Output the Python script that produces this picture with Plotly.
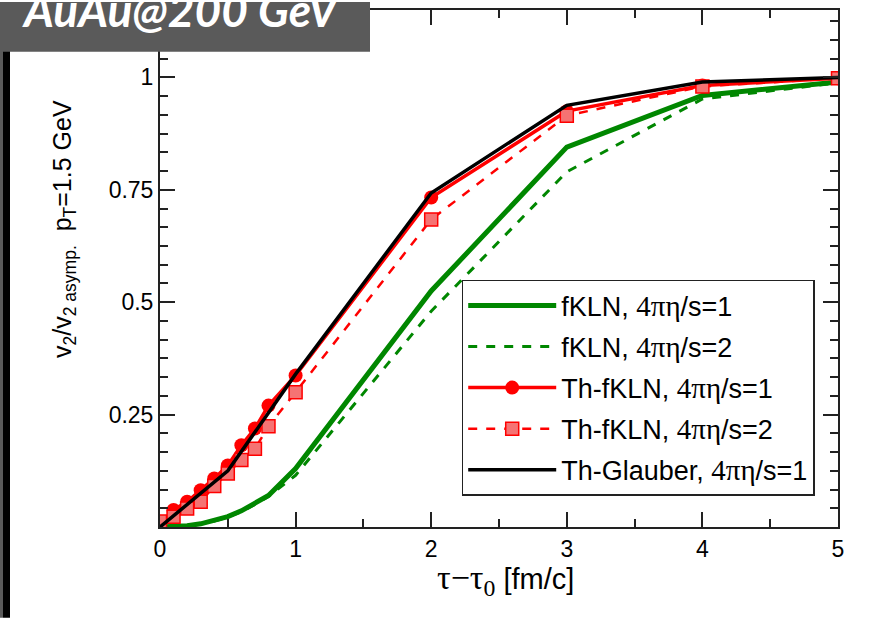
import plotly.graph_objects as go

# ---- data ----
x_fine = [0, 0.1, 0.2, 0.3, 0.4, 0.5, 0.6, 0.7, 0.8, 1, 2, 3, 4, 5]
fkln_1 = [0, 0.001, 0.003, 0.007, 0.014, 0.023, 0.036, 0.052, 0.07, 0.13, 0.525, 0.845, 0.96, 0.99]
fkln_2 = [0, 0.001, 0.003, 0.007, 0.013, 0.022, 0.034, 0.05, 0.068, 0.115, 0.48, 0.79, 0.952, 0.988]
thfkln_1 = [0, 0.038, 0.056, 0.082, 0.108, 0.137, 0.182, 0.219, 0.27, 0.337, 0.733, 0.925, 0.982, 0.998]
thfkln_2 = [0.012, 0.023, 0.041, 0.056, 0.091, 0.119, 0.149, 0.174, 0.224, 0.30, 0.684, 0.915, 0.98, 0.998]
x_glauber = [0, 0.5, 1, 2, 3, 4, 5]
thglauber_1 = [0, 0.125, 0.34, 0.743, 0.938, 0.99, 1.0]

SERIF = "<span style='font-family:Liberation Serif;font-size:29px'>4πη</span>"
names = [
    "fKLN, " + SERIF + "/s=1",
    "fKLN, " + SERIF + "/s=2",
    "Th-fKLN, " + SERIF + "/s=1",
    "Th-fKLN, " + SERIF + "/s=2",
    "Th-Glauber, " + SERIF + "/s=1",
]
x_ticks = [0, 1, 2, 3, 4, 5]
y_ticks = [0.25, 0.5, 0.75, 1]
y_ticklabels = ["0.25", "0.5", "0.75", "1"]

GREEN = "rgb(0,135,0)"
RED = "rgb(255,0,0)"

fig = go.Figure()
fig.add_trace(go.Scatter(x=x_fine, y=fkln_1, mode="lines", name=names[0], legendgroup="a",
                         line=dict(color=GREEN, width=5)))
fig.add_trace(go.Scatter(x=x_fine, y=fkln_2, mode="lines", name=names[1], legendgroup="b",
                         line=dict(color=GREEN, width=3, dash="dash")))
fig.add_trace(go.Scatter(x=x_fine, y=thfkln_1, mode="lines+markers", name=names[2], legendgroup="c",
                         line=dict(color=RED, width=3.5),
                         marker=dict(symbol="circle", size=14, color=RED)))
fig.add_trace(go.Scatter(x=x_fine, y=thfkln_2, mode="lines+markers", name=names[3], legendgroup="d",
                         line=dict(color=RED, width=2.5, dash="dash"),
                         marker=dict(symbol="square", size=13, color="rgb(245,115,115)",
                                     line=dict(color=RED, width=1.5))))
fig.add_trace(go.Scatter(x=x_glauber, y=thglauber_1, mode="lines", name=names[4], legendgroup="e",
                         line=dict(color="black", width=3.5)))

axis_common = dict(
    showline=True, linecolor="#222", linewidth=2, mirror="ticks",
    ticks="inside", ticklen=15, tickwidth=1.5, tickcolor="#222",
    showgrid=False, zeroline=False,
    tickfont=dict(family="Liberation Sans, Arial", size=23, color="black"),
)

fig.update_xaxes(range=[0, 5], tickmode="array", tickvals=x_ticks,
                 minor=dict(dtick=0.5, tick0=0, ticks="inside", ticklen=8, tickwidth=1.5, tickcolor="#222"),
                 **axis_common)
fig.update_yaxes(range=[0, 1.15], tickmode="array", tickvals=y_ticks, ticktext=y_ticklabels,
                 minor=dict(dtick=1/24, tick0=0, ticks="inside", ticklen=8, tickwidth=1.5, tickcolor="#222"),
                 **axis_common)

fig.update_layout(
    width=882, height=618,
    margin=dict(l=160, r=44, t=8, b=91),
    paper_bgcolor="white", plot_bgcolor="white",
    showlegend=True,
    legend=dict(x=0.445, y=0.478, xanchor="left", yanchor="top",
                bgcolor="white", bordercolor="#222", borderwidth=1.5,
                font=dict(family="Liberation Sans, Arial", size=27, color="black"),
                tracegroupgap=3, itemwidth=88),
    font=dict(family="Liberation Sans, Arial", color="black"),
)

# axis titles as annotations
fig.add_annotation(
    xref="paper", yref="paper", x=-0.142, y=0.576, xanchor="center", yanchor="middle",
    textangle=-90, showarrow=False,
    text="v<sub>2</sub>/v<sub>2 asymp.</sub>  p<sub>T</sub>=1.5 GeV",
    font=dict(family="Liberation Sans, Arial", size=25, color="black"),
)
fig.add_annotation(
    xref="paper", yref="paper", x=0.51, y=-0.102, xanchor="center", yanchor="middle",
    showarrow=False,
    text="<span style='font-family:Liberation Serif;font-size:34px'>τ−τ<sub>0</sub></span> [fm/c]",
    font=dict(family="Liberation Sans, Arial", size=29, color="black"),
)

# decorative frame: left strip and title box (pixel positions converted to paper coords)
W_PLOT = 882 - 160 - 44
H_PLOT = 618 - 8 - 91
def px(xp):
    return (xp - 160) / W_PLOT
def py(yp):
    return (527 - yp) / H_PLOT

fig.add_shape(type="rect", xref="paper", yref="paper", x0=px(0), x1=px(3), y0=py(618), y1=py(0),
              fillcolor="rgb(90,90,90)", line=dict(width=0), layer="above")
fig.add_shape(type="rect", xref="paper", yref="paper", x0=px(3), x1=px(10), y0=py(618), y1=py(48),
              fillcolor="black", line=dict(width=0), layer="above")
fig.add_shape(type="rect", xref="paper", yref="paper", x0=px(2), x1=px(370), y0=py(50), y1=py(0),
              fillcolor="rgb(90,90,90)", line=dict(width=0), layer="above")
fig.add_annotation(
    xref="paper", yref="paper", x=px(20), y=py(37), xanchor="left", yanchor="bottom",
    showarrow=False, text="<b><i>AuAu@200 GeV</i></b>",
    font=dict(family="Lato, Open Sans", size=46, color="white"),
)

fig.write_html("out.html")
